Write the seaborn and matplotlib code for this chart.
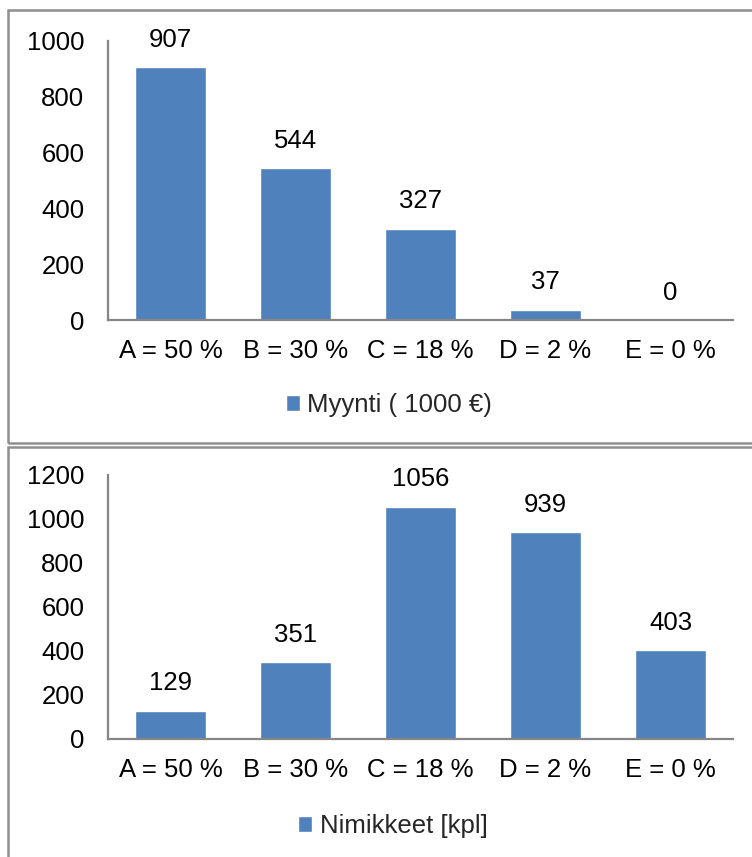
import matplotlib
matplotlib.use("Agg")
import matplotlib.pyplot as plt
from matplotlib.patches import Rectangle
import seaborn as sns
import pandas as pd

# ABC classes with their share of sales
classes = ["A = 50 %", "B = 30 %", "C = 18 %", "D = 2 %", "E = 0 %"]
sales = [907, 544, 327, 37, 0]          # Myynti (1000 €)
items = [129, 351, 1056, 939, 403]      # Nimikkeet [kpl]
sales_label = "Myynti ( 1000 €)"
items_label = "Nimikkeet [kpl]"
sales_ticks = [0, 200, 400, 600, 800, 1000]
items_ticks = [0, 200, 400, 600, 800, 1000, 1200]

BAR = "#4F81BD"
AXIS = "#868686"
FRAME = "#8f8f8f"
FS = 18.5

sns.set_theme(style="white")
plt.rcParams["font.family"] = ["Liberation Sans", "DejaVu Sans"]

W, H = 752, 857
fig = plt.figure(figsize=(W / 100, H / 100), dpi=100)


def px_axes(left, top, right, bottom):
    return fig.add_axes([left / W, 1 - bottom / H, (right - left) / W, (bottom - top) / H])


def panel(ax, values, name, ticks, legend_xy):
    df = pd.DataFrame({"luokka": classes, "arvo": values, "sarja": name})
    sns.barplot(data=df, x="luokka", y="arvo", hue="sarja", palette=[BAR],
                width=0.57, saturation=1, ax=ax, legend=True)
    ax.set_xlim(-0.5, len(classes) - 0.5)
    ax.set_ylim(0, ticks[-1])
    ax.set_yticks(ticks)
    ax.set_xlabel("")
    ax.set_ylabel("")
    for s in ("top", "right"):
        ax.spines[s].set_visible(False)
    for s in ("left", "bottom"):
        ax.spines[s].set_color(AXIS)
        ax.spines[s].set_linewidth(1.6)
    ax.tick_params(axis="both", length=0, labelsize=FS, colors="black")
    ax.tick_params(axis="x", pad=14)
    ax.tick_params(axis="y", pad=17)
    for cont in ax.containers:
        ax.bar_label(cont, labels=[f"{v:g}" for v in values], padding=11,
                     fontsize=FS, color="black")
    handles, labels = ax.get_legend_handles_labels()
    ax.legend(handles, labels, loc="center", bbox_to_anchor=legend_xy,
              bbox_transform=fig.transFigure, frameon=False, fontsize=FS,
              handlelength=0.55, handleheight=0.55, handletextpad=0.3)


ax1 = px_axes(108, 41, 733, 320)
panel(ax1, sales, sales_label, sales_ticks, (389 / W, 1 - 405 / H))

ax2 = px_axes(108, 475, 733, 739)
panel(ax2, items, items_label, items_ticks, (393 / W, 1 - 826 / H))

# chart frames
for top, bottom in ((10, 443), (447, 870)):
    fig.patches.append(Rectangle((8 / W, 1 - bottom / H), (770 - 8) / W, (bottom - top) / H,
                                 transform=fig.transFigure, fill=False,
                                 edgecolor=FRAME, linewidth=1.8))

fig.savefig("out.png", dpi=100, facecolor="white")
